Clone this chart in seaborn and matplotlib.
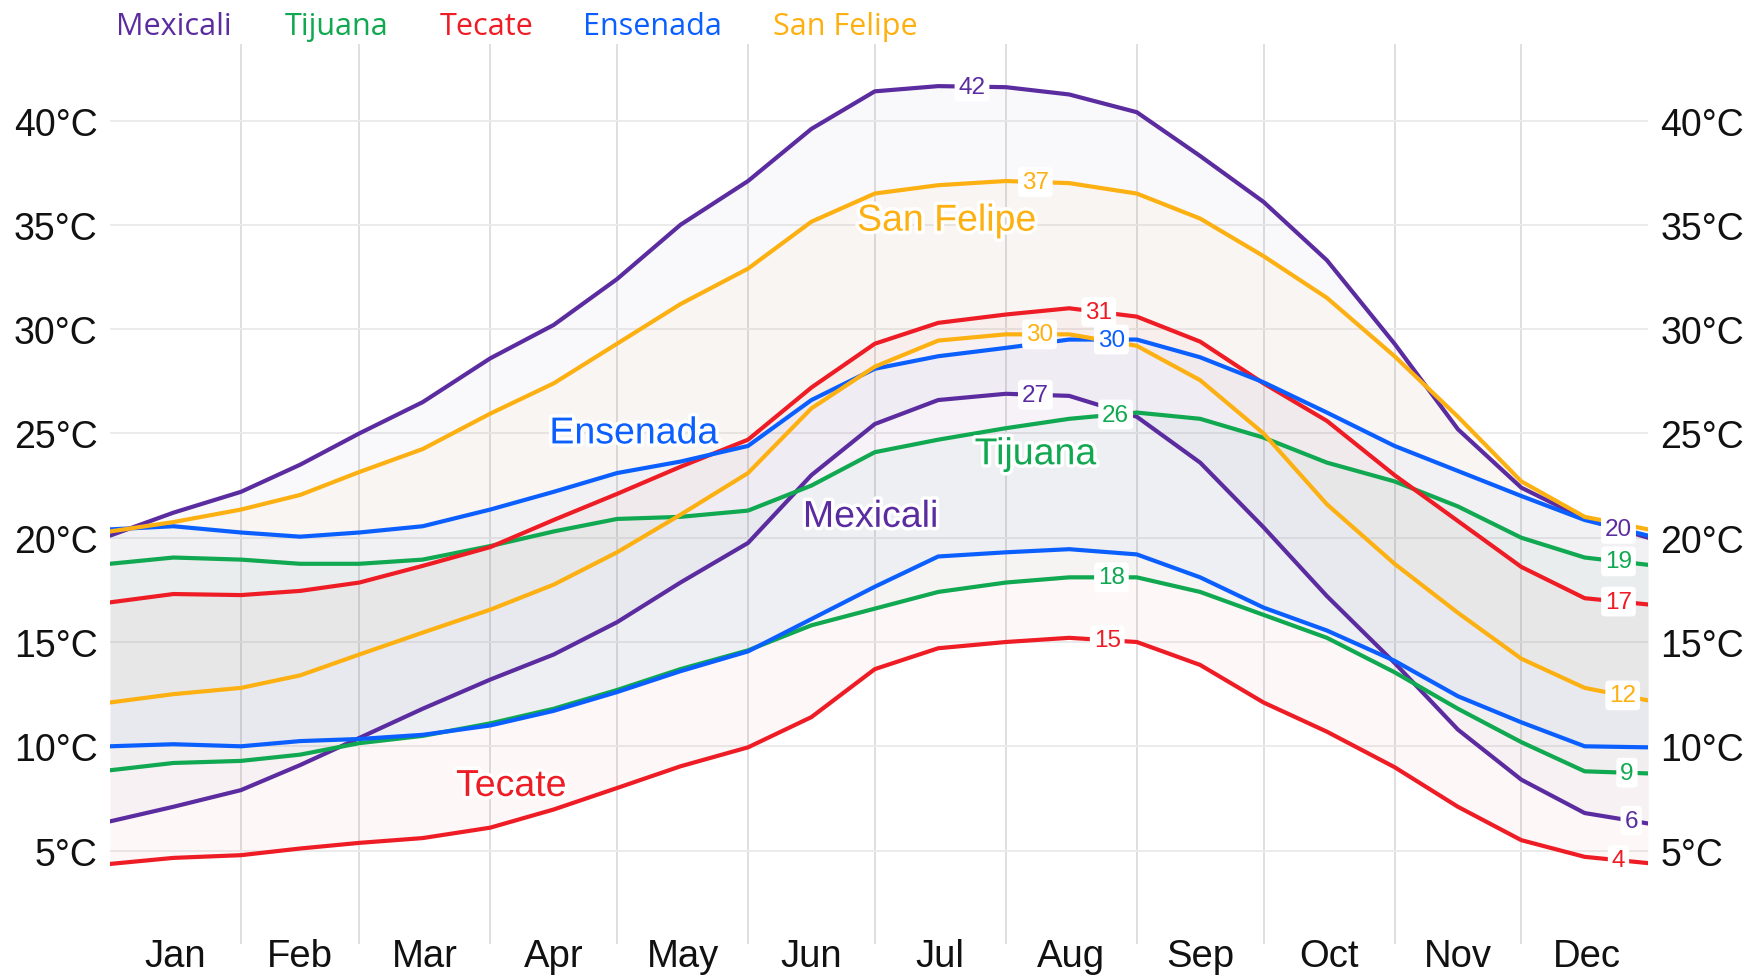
import numpy as np
import pandas as pd
import matplotlib
matplotlib.use("Agg")
import matplotlib.pyplot as plt
import matplotlib.patheffects as pe
import seaborn as sns

# day of year for each reading (roughly 1st and 15th of every month)
days = [0, 15, 31, 45, 59, 74, 90, 105, 120, 135, 151, 166, 181, 196, 212,
        227, 243, 258, 273, 288, 304, 319, 334, 349, 364]

cities = ["Mexicali", "Tijuana", "Tecate", "Ensenada", "San Felipe"]
colors = {"Mexicali": "#5b2c9f", "Tijuana": "#10a850", "Tecate": "#ee1c25",
          "Ensenada": "#0b5fff", "San Felipe": "#fdb012"}

# average daily high / low, °C
mexicali_high = [20.1, 21.2, 22.2, 23.5, 25.0, 26.5, 28.6, 30.2, 32.4, 35.0, 37.1, 39.6, 41.4,
                 41.65, 41.6, 41.25, 40.4, 38.3, 36.1, 33.3, 29.3, 25.2, 22.4, 20.9, 20.0]
mexicali_low = [6.4, 7.1, 7.9, 9.1, 10.4, 11.8, 13.2, 14.4, 15.95, 17.85, 19.75, 23.0, 25.45,
                26.6, 26.9, 26.8, 25.8, 23.6, 20.5, 17.2, 14.0, 10.8, 8.4, 6.8, 6.3]
tijuana_high = [18.75, 19.05, 18.95, 18.75, 18.75, 18.95, 19.6, 20.3, 20.9, 21.0, 21.3, 22.5, 24.1,
                24.7, 25.25, 25.7, 26.0, 25.7, 24.8, 23.6, 22.7, 21.5, 20.0, 19.05, 18.7]
tijuana_low = [8.85, 9.2, 9.3, 9.6, 10.15, 10.5, 11.1, 11.8, 12.7, 13.7, 14.6, 15.8, 16.6,
               17.4, 17.85, 18.1, 18.1, 17.4, 16.3, 15.2, 13.55, 11.8, 10.2, 8.8, 8.7]
tecate_high = [16.9, 17.3, 17.25, 17.45, 17.85, 18.65, 19.55, 20.85, 22.1, 23.4, 24.7, 27.2, 29.3,
               30.3, 30.7, 31.0, 30.6, 29.4, 27.4, 25.6, 23.0, 20.8, 18.6, 17.1, 16.8]
tecate_low = [4.36, 4.65, 4.78, 5.1, 5.37, 5.6, 6.1, 6.97, 8.0, 9.04, 9.95, 11.4, 13.7,
              14.7, 15.0, 15.2, 15.0, 13.9, 12.1, 10.7, 9.0, 7.1, 5.5, 4.7, 4.4]
ensenada_high = [20.4, 20.55, 20.25, 20.05, 20.25, 20.55, 21.35, 22.2, 23.1, 23.65, 24.4, 26.6, 28.1,
                 28.7, 29.1, 29.5, 29.5, 28.65, 27.45, 26.0, 24.4, 23.2, 22.0, 20.85, 20.1]
ensenada_low = [10.0, 10.1, 10.0, 10.25, 10.35, 10.55, 11.0, 11.7, 12.6, 13.6, 14.55, 16.1, 17.65,
                19.1, 19.3, 19.45, 19.2, 18.1, 16.65, 15.55, 14.1, 12.4, 11.15, 10.0, 9.95]
sanfelipe_high = [20.3, 20.75, 21.35, 22.05, 23.15, 24.25, 25.95, 27.4, 29.3, 31.2, 32.9, 35.15, 36.5,
                  36.9, 37.1, 37.0, 36.5, 35.3, 33.5, 31.5, 28.7, 25.8, 22.7, 21.0, 20.4]
sanfelipe_low = [12.1, 12.5, 12.8, 13.4, 14.4, 15.45, 16.55, 17.75, 19.3, 21.1, 23.1, 26.2, 28.2,
                 29.45, 29.75, 29.75, 29.2, 27.55, 25.0, 21.6, 18.75, 16.4, 14.2, 12.8, 12.2]

highs = {"Mexicali": mexicali_high, "Tijuana": tijuana_high, "Tecate": tecate_high,
         "Ensenada": ensenada_high, "San Felipe": sanfelipe_high}
lows = {"Mexicali": mexicali_low, "Tijuana": tijuana_low, "Tecate": tecate_low,
        "Ensenada": ensenada_low, "San Felipe": sanfelipe_low}

months = ["Jan", "Feb", "Mar", "Apr", "May", "Jun", "Jul", "Aug", "Sep", "Oct", "Nov", "Dec"]
month_starts = [0, 31, 59, 90, 120, 151, 181, 212, 243, 273, 304, 334, 365]
month_mids = [(a + b) / 2 for a, b in zip(month_starts[:-1], month_starts[1:])]

# value labels: (city, series, day, text)
value_labels = [("Mexicali", "high", 204, "42"), ("Mexicali", "high", 357, "20"),
                ("San Felipe", "high", 219, "37"),
                ("Tecate", "high", 234, "31"), ("Tecate", "high", 357, "17"),
                ("Ensenada", "high", 237, "30"),
                ("Tijuana", "high", 238, "26"), ("Tijuana", "high", 357, "19"),
                ("Mexicali", "low", 219, "27"), ("Mexicali", "low", 360, "6"),
                ("San Felipe", "low", 220, "30"), ("San Felipe", "low", 358, "12"),
                ("Tijuana", "low", 237, "18"), ("Tijuana", "low", 359, "9"),
                ("Tecate", "low", 236, "15"), ("Tecate", "low", 357, "4")]

# city names written inside the plot: (city, day, temperature)
name_labels = [("San Felipe", 198, 35.2), ("Ensenada", 124, 25.0), ("Tijuana", 219, 24.0),
               ("Mexicali", 180, 21.0), ("Tecate", 95, 8.1)]

rows = []
for c in cities:
    for kind, src in (("high", highs), ("low", lows)):
        for d, t in zip(days, src[c]):
            rows.append({"city": c, "kind": kind, "day": d, "temp": t})
df = pd.DataFrame(rows)

sns.set_theme(style="white")
plt.rcParams["font.family"] = ["Liberation Sans", "DejaVu Sans"]

fig = plt.figure(figsize=(17.57, 9.78), dpi=100)
ax = fig.add_axes([0.0626, 0.0337, 0.8754, 0.9203])

for c in cities:
    ax.fill_between(days, lows[c], highs[c], color=colors[c], alpha=0.03, lw=0, zorder=1)

sns.lineplot(data=df, x="day", y="temp", hue="city", units="kind", estimator=None,
             palette=colors, hue_order=cities, linewidth=3.0, legend=False, ax=ax, zorder=3)

ax.set_xlim(0, 364)
ax.set_ylim(0.52, 43.67)
ax.set_xlabel("")
ax.set_ylabel("")
for s in ax.spines.values():
    s.set_visible(False)

yt = [5, 10, 15, 20, 25, 30, 35, 40]
ax.set_yticks(yt)
ax.set_yticklabels([f"{v}°C" for v in yt])
ax.yaxis.grid(True, color="#ebebeb", lw=1.4)
ax.set_xticks(month_mids)
ax.set_xticklabels(months)
ax.set_xticks(month_starts[1:-1], minor=True)
ax.xaxis.grid(True, which="minor", color="#dcdcdc", lw=1.3)
ax.xaxis.grid(False, which="major")
ax.set_axisbelow(True)
ax.tick_params(axis="both", which="both", length=0)
ax.tick_params(axis="y", labelsize=27, labelcolor="#111111", pad=9, labelright=True)
ax.tick_params(axis="x", labelsize=27.5, labelcolor="#111111", pad=-4)

halo = [pe.withStroke(linewidth=5, foreground="white")]
for c, d, t in name_labels:
    ax.text(d, t, c, color=colors[c], fontsize=27, ha="center", va="center",
            path_effects=halo, zorder=5)

for c, kind, d, txt in value_labels:
    src = highs if kind == "high" else lows
    y = np.interp(d, days, src[c])
    ax.text(d, y, txt, color=colors[c], fontsize=17.5, ha="center", va="center", zorder=6,
            bbox=dict(boxstyle="round,pad=0.16", fc="white", ec="none"))

# legend as coloured words along the top
legend_x = [116, 285, 440, 583, 773]
for c, x in zip(cities, legend_x):
    fig.text(x / 1757, 0.972, c, color=colors[c], fontsize=22, ha="left", va="center",
             family=["Open Sans", "DejaVu Sans"])

fig.savefig("out.png", dpi=100)
